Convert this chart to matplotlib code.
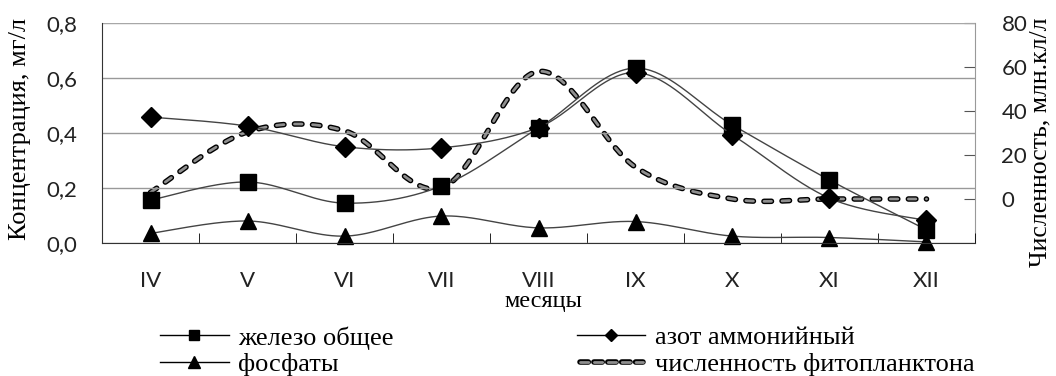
import numpy as np
import matplotlib
matplotlib.use("Agg")
import matplotlib.pyplot as plt
from matplotlib.lines import Line2D
from matplotlib.legend_handler import HandlerBase

months = ["IV", "V", "VI", "VII", "VIII", "IX", "X", "XI", "XII"]
iron = [0.156, 0.222, 0.145, 0.207, 0.418, 0.636, 0.429, 0.229, 0.048]
ammonium = [0.458, 0.425, 0.350, 0.346, 0.420, 0.620, 0.393, 0.163, 0.082]
phosphates = [0.035, 0.080, 0.025, 0.098, 0.055, 0.078, 0.025, 0.020, 0.004]
phyto = [3, 30.5, 31, 5, 58, 14.5, 0, 0, 0]

left_ticks = [0.0, 0.2, 0.4, 0.6, 0.8]
left_ticklabels = ["0,0", "0,2", "0,4", "0,6", "0,8"]
right_ticks = [0, 20, 40, 60, 80]

labels = ["железо общее", "азот аммонийный", "фосфаты", "численность фитопланктона"]


def smooth(y, n=40):
    y = np.asarray(y, float)
    x = np.arange(len(y), dtype=float)
    P = np.column_stack([x, y])
    out = []
    t = np.linspace(0, 1, n)[:, None]
    for i in range(len(P) - 1):
        p0 = P[i - 1] if i > 0 else P[i]
        p1 = P[i]
        p2 = P[i + 1]
        p3 = P[i + 2] if i + 2 < len(P) else P[i + 1]
        c1 = p1 + (p2 - p0) / 6
        c2 = p2 - (p3 - p1) / 6
        seg = ((1 - t) ** 3) * p1 + 3 * ((1 - t) ** 2) * t * c1 + 3 * (1 - t) * t ** 2 * c2 + t ** 3 * p2
        out.append(seg if i == 0 else seg[1:])
    S = np.vstack(out)
    return S[:, 0], S[:, 1]


fig = plt.figure(figsize=(10.56, 3.76), dpi=100)
ax = fig.add_axes([102 / 1056, 1 - 243 / 376, 873 / 1056, 220 / 376])
ax2 = ax.twinx()
ax.set_zorder(ax2.get_zorder() + 1)
ax.patch.set_visible(False)

x = np.arange(len(months))
lc = "#444444"

OUT_LW, IN_LW = 4.0, 2.0
outer_ls = (0, (1.35, 1.9))
inner_ls = (0, (2.7, 3.8))

sx, sy = smooth(phyto)
ax2.plot(sx, sy, color="black", lw=OUT_LW, ls=outer_ls, dash_capstyle="round")
ax2.plot(sx, sy, color="#8f8f8f", lw=IN_LW, ls=inner_ls, dash_capstyle="round")

for data, mk, msz in [(iron, "s", 12), (ammonium, "D", 10.5), (phosphates, "^", 12)]:
    sx, sy = smooth(data)
    ax.plot(sx, sy, color=lc, lw=1.0)
    ax.plot(x, data, ls="none", marker=mk, ms=msz, color="black", clip_on=False)

ax.set_xlim(-0.5, len(months) - 0.5)
ax.set_ylim(0, 0.8)
ax2.set_ylim(-20, 80)

ax.set_yticks(left_ticks)
ax.set_yticklabels(left_ticklabels)
ax.set_xticks(x)
ax.set_xticklabels(months)
ax.set_xticks(np.arange(len(months) + 1) - 0.5, minor=True)
ax.tick_params(axis="x", which="major", length=0, pad=20)
ax.tick_params(axis="x", which="minor", direction="in", length=7, color="black")
ax.tick_params(axis="y", length=0, pad=18)
ax2.set_yticks(right_ticks)
ax2.tick_params(axis="y", direction="in", length=8, color="#555555", pad=19)

for lab in ax.get_xticklabels() + ax.get_yticklabels() + ax2.get_yticklabels():
    lab.set_fontfamily("Lato")
    lab.set_fontsize(16)
    lab.set_color("#222222")

ax.grid(axis="y", color="#999999", lw=1.0)
ax.set_axisbelow(True)
ax.spines["top"].set_visible(False)
ax2.spines["top"].set_visible(False)
ax.spines["left"].set_color("#333333")
ax.spines["bottom"].set_color("#333333")
ax.spines["right"].set_visible(False)
ax2.spines["right"].set_color("#999999")
ax2.spines["left"].set_visible(False)
ax2.spines["bottom"].set_visible(False)
ax.axhline(0.8, color="#aaaaaa", lw=1.2)

serif = "Liberation Serif"
fig.text(20 / 1056, 1 - 129 / 376, "Концентрация, мг/л", family=serif, fontsize=19,
         rotation=90, ha="center", va="center")
fig.text(1040 / 1056, 1 - 142 / 376, "Численность, млн.кл/л", family=serif, fontsize=18.5,
         rotation=90, ha="center", va="center")
fig.text(543 / 1056, 1 - 302 / 376, "месяцы", family=serif, fontsize=17.5, ha="center", va="center")

h_iron = Line2D([], [], color="black", lw=1.0, marker="s", ms=7.5)
h_amm = Line2D([], [], color="black", lw=1.0, marker="D", ms=6)
h_pho = Line2D([], [], color="black", lw=1.0, marker="^", ms=8.5)


class DoubleDash:
    pass


class HandlerDoubleDash(HandlerBase):
    def create_artists(self, legend, orig_handle, xdescent, ydescent, width, height, fontsize, trans):
        y = height / 2 - ydescent
        l1 = Line2D([-xdescent + 2, width - xdescent - 2], [y, y], color="black", lw=OUT_LW, ls=(0, (1.5, 1.0)),
                    dash_capstyle="round", transform=trans)
        l2 = Line2D([-xdescent + 2, width - xdescent - 2], [y, y], color="#8f8f8f", lw=IN_LW, ls=(0, (3.0, 2.0)),
                    dash_capstyle="round", transform=trans)
        return [l1, l2]


h_phy = DoubleDash()

fig.legend([h_iron, h_pho, h_amm, h_phy],
           ["железо общее", "фосфаты", "азот аммонийный", "численность фитопланктона"],
           handler_map={DoubleDash: HandlerDoubleDash()},
           ncol=2, loc="upper left", bbox_to_anchor=(160 / 1056, 1 - 326 / 376),
           frameon=False, prop=dict(family=serif, size=19), handlelength=2.6, handletextpad=0.35,
           columnspacing=6.95, labelspacing=0.12, borderpad=0, borderaxespad=0)

fig.savefig("out.png", dpi=100)
